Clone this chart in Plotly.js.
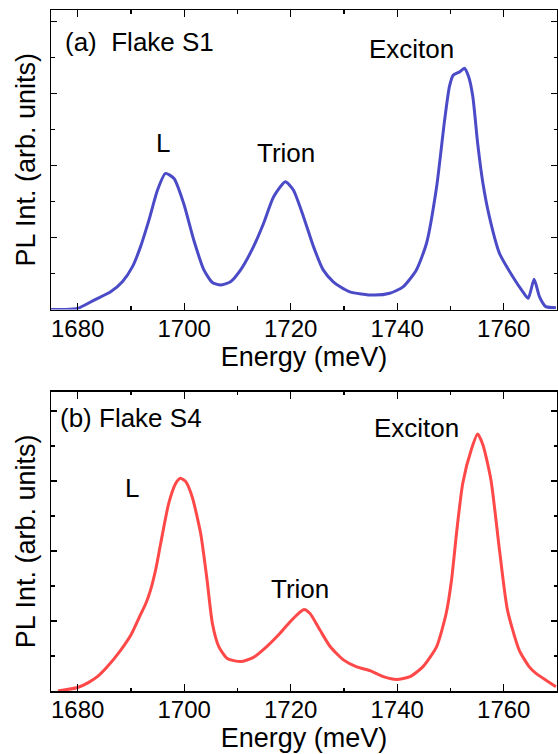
<!DOCTYPE html>
<html>
<head>
<meta charset="utf-8">
<script src="https://cdn.plot.ly/plotly-3.0.1.min.js"></script>
<style>html,body{margin:0;padding:0;background:#fff;}#chart{width:558px;height:754px;}</style>
</head>
<body>
<div id="chart"></div>
<script>
// Flake S1 (panel a)
const energyA = [1675, 1677.5, 1680, 1683.1, 1686.2, 1688.4, 1690.3, 1691.8, 1693.4, 1695, 1696.5, 1698.1, 1699.9, 1701.8, 1703.7, 1705.3, 1706.8, 1708.7, 1710.6, 1713, 1714.9, 1716.8, 1719, 1720.5, 1722.4, 1724.3, 1726.1, 1728, 1729.3, 1731.1, 1735.5, 1738.6, 1741.1, 1743.6, 1745.5, 1747.4, 1748.9, 1749.8, 1750.5, 1751.7, 1752.6, 1753.4, 1754.2, 1755.1, 1756.1, 1757.3, 1759.2, 1761.7, 1763.6, 1764.6, 1765.7, 1766.7, 1767.9, 1769.8];
const intensityA = [0.00, 0.00, 0.03, 0.26, 0.49, 0.77, 1.19, 1.74, 2.49, 3.32, 3.78, 3.64, 2.95, 1.93, 1.10, 0.75, 0.68, 0.77, 1.10, 1.74, 2.39, 3.13, 3.55, 3.32, 2.58, 1.74, 1.10, 0.77, 0.63, 0.49, 0.40, 0.45, 0.63, 1.10, 1.84, 3.41, 5.26, 6.19, 6.51, 6.60, 6.70, 6.47, 5.91, 4.62, 3.50, 2.58, 1.56, 0.91, 0.49, 0.31, 0.84, 0.36, 0.08, 0.05];

// Flake S4 (panel b)
const energyB = [1676.3, 1680, 1682, 1683.7, 1685.6, 1688.1, 1690, 1691.8, 1692.8, 1693.7, 1694.7, 1695.6, 1697.1, 1698.4, 1699.3, 1700.3, 1701.5, 1703.1, 1704.3, 1705.3, 1706.5, 1708.1, 1710.6, 1713, 1715.5, 1718, 1719.9, 1721.5, 1722.5, 1723.6, 1725.5, 1727.4, 1729.9, 1732.4, 1734.9, 1737.4, 1739.9, 1742.4, 1744.8, 1747.4, 1749.2, 1750.2, 1751.2, 1752.3, 1753.9, 1755.1, 1756.1, 1757.6, 1759.2, 1760.7, 1762.9, 1764.8, 1766, 1769.8];
const intensityB = [0.00, 0.10, 0.24, 0.41, 0.70, 1.17, 1.60, 2.18, 2.50, 2.89, 3.50, 4.22, 5.36, 5.93, 6.08, 5.98, 5.55, 4.50, 3.17, 1.93, 1.27, 0.93, 0.84, 0.96, 1.27, 1.65, 1.98, 2.22, 2.33, 2.22, 1.74, 1.27, 0.89, 0.69, 0.58, 0.41, 0.33, 0.41, 0.69, 1.27, 2.22, 3.17, 4.60, 5.93, 6.89, 7.34, 7.03, 6.03, 4.03, 2.31, 1.17, 0.69, 0.51, 0.12];

const xTickVals = [1680, 1700, 1720, 1740, 1760];
const xTickText = ['1680', '1700', '1720', '1740', '1760'];

const FONT = 'Arial, "Liberation Sans", sans-serif';

function xAxis(anchor) {
  return {
    anchor: anchor, range: [1675, 1770], showline: true, linecolor: '#000', linewidth: 1.5,
    mirror: 'ticks', ticks: 'inside', ticklen: 7, tickwidth: 1.3, tickcolor: '#000',
    tickvals: xTickVals, ticktext: xTickText, ticklabelstandoff: -3,
    tickfont: {family: FONT, size: 24, color: '#000'},
    minor: {dtick: 10, tick0: 1680, ticks: 'inside', ticklen: 3.5, tickwidth: 1.3, tickcolor: '#000'},
    showgrid: false, zeroline: false,
    title: {text: 'Energy (meV)', font: {family: FONT, size: 27, color: '#000'}, standoff: 0}
  };
}
function yAxis(anchor, domain, top) {
  return {
    anchor: anchor, domain: domain, range: [0, top], showline: true, linecolor: '#000', linewidth: 1.5,
    mirror: 'ticks', ticks: 'inside', ticklen: 6, tickwidth: 1.3, tickcolor: '#000',
    dtick: 2, tick0: 0, showticklabels: false,
    minor: {dtick: 1, ticks: 'inside', ticklen: 3.5, tickwidth: 1.3, tickcolor: '#000'},
    showgrid: false, zeroline: false,
    title: {text: 'PL Int. (arb. units)', font: {family: FONT, size: 27, color: '#000'}, standoff: 6}
  };
}

const traces = [
  {x: energyA, y: intensityA, xaxis: 'x', yaxis: 'y', mode: 'lines', line: {color: '#4b4bc8', width: 3, shape: 'spline', smoothing: 0.6}, hoverinfo: 'skip'},
  {x: energyB, y: intensityB, xaxis: 'x2', yaxis: 'y2', mode: 'lines', line: {color: '#ff4848', width: 3, shape: 'spline', smoothing: 0.6}, hoverinfo: 'skip'}
];

const annFont = {family: FONT, size: 26, color: '#000'};
function ann(xref, yref, x, y, text, xanchor) {
  return {xref: xref, yref: yref, x: x, y: y, text: text, showarrow: false, font: annFont, xanchor: xanchor || 'center', yanchor: 'middle'};
}

const layout = {
  width: 558, height: 754,
  margin: {l: 51, r: 1, t: 10, b: 63},
  paper_bgcolor: '#fff', plot_bgcolor: '#fff',
  showlegend: false,
  xaxis: xAxis('y'),
  yaxis: yAxis('x', [0.5602, 1], 8.32),
  xaxis2: xAxis('y2'),
  yaxis2: yAxis('x2', [0, 0.4395], 8.55),
  annotations: [
    ann('x', 'y', 1677.3, 7.43, '(a)\u00a0 Flake S1', 'left'),
    ann('x', 'y', 1696, 4.62, 'L'),
    ann('x', 'y', 1719.1, 4.35, 'Trion'),
    ann('x', 'y', 1742.7, 7.23, 'Exciton'),
    ann('x2', 'y2', 1676.4, 7.79, '(b)\u00a0Flake S4', 'left'),
    ann('x2', 'y2', 1690.2, 5.81, 'L'),
    ann('x2', 'y2', 1721.8, 2.9, 'Trion'),
    ann('x2', 'y2', 1743.6, 7.5, 'Exciton')
  ]
};

Plotly.newPlot('chart', traces, layout, {staticPlot: true, displayModeBar: false});
</script>
</body>
</html>
